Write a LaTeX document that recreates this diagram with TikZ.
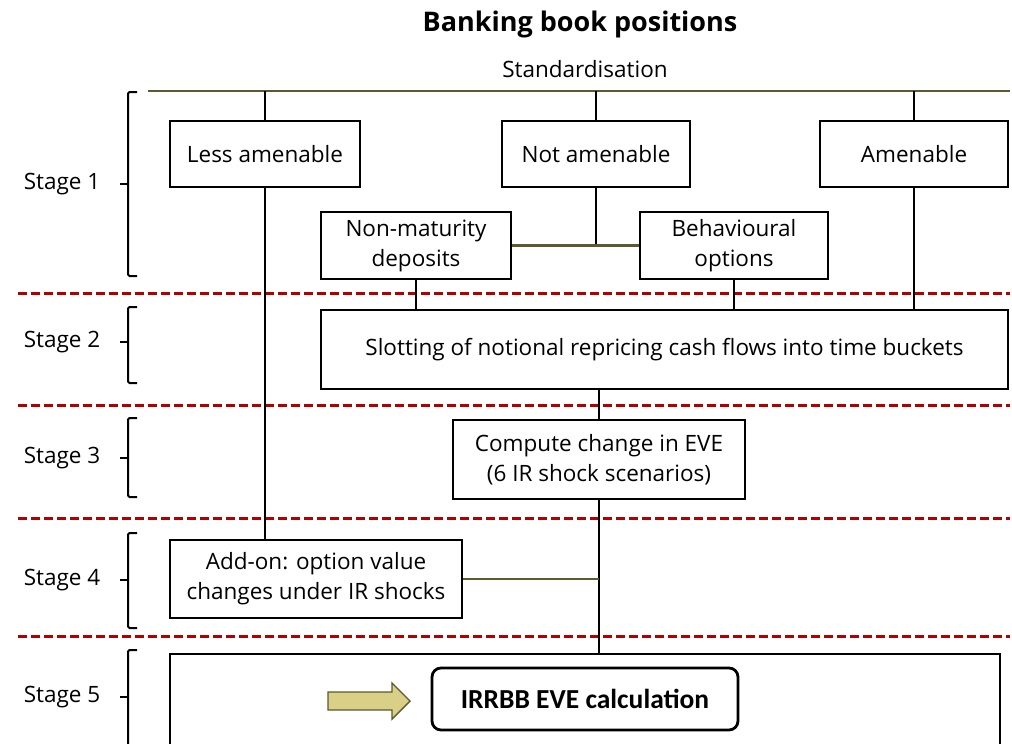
\documentclass[tikz,border=0pt]{standalone}
\usepackage{fontspec}
\setmainfont{Open Sans}
\newfontfamily\calfont{Carlito}
\definecolor{olivec}{HTML}{5C5A2E}
\definecolor{sepred}{HTML}{B00000}
\definecolor{khaki}{HTML}{D9CF86}
\begin{document}
\begin{tikzpicture}[x=1pt,y=-1pt,
    box/.style={draw, line width=2pt, fill=white, align=center, inner sep=0pt,
      font=\fontsize{22.5}{30}\selectfont},
    stagetxt/.style={font=\fontsize{22.5}{30}\selectfont},
    link/.style={line width=2pt},
    olivelink/.style={line width=2.2pt, draw=olivec},
    sepline/.style={draw=sepred, line width=3pt, dash pattern=on 9pt off 4pt},
    brk/.style={line width=2pt, rounded corners=1.5pt}]
    \useasboundingbox (0,0) rectangle (1012,744);

    \node[font=\bfseries\fontsize{27}{32}\selectfont] (title) at (580,24) {Banking book positions};
    \node[stagetxt] (std) at (585,69) {Standardisation};

    % stages and brackets
    \foreach \n/\top/\mid/\bot in {1/92/184/276, 2/307/342/383, 3/418/458/497, 4/533/580/628, 5/650/697/760} {
        \node[stagetxt] (s\n) at (62,\mid) {Stage \n};
        \draw[brk] (137,\top) -- (128,\top) -- (128,\bot) -- (137,\bot);
        \draw[line width=2pt] (120,\mid) -- (128,\mid);
    }
    \foreach \y in {293,405,518,636}
        \draw[sepline] (18,\y) -- (1010,\y);

    % boxes
    \node[box, minimum width=190pt, minimum height=66pt] (lessam) at (265,154) {Less amenable};
    \node[box, minimum width=188pt, minimum height=66pt] (notam) at (596,154) {Not amenable};
    \node[box, minimum width=188pt, minimum height=66pt] (am) at (914,154) {Amenable};
    \node[box, minimum width=190pt, minimum height=67pt] (nmd) at (416,245.5) {Non-maturity\\deposits};
    \node[box, minimum width=188pt, minimum height=67pt] (beh) at (734,245.5) {Behavioural\\options};
    \node[box, minimum width=687pt, minimum height=79pt] (slot) at (664.5,349.5) {Slotting of notional repricing cash flows into time buckets};
    \node[box, minimum width=292pt, minimum height=79pt] (comp) at (599,459.5) {Compute change in EVE\\(6 IR shock scenarios)};
    \node[box, minimum width=292pt, minimum height=78pt] (addon) at (316,579) {Add-on: option value\\changes under IR shocks};
    \node[box, minimum width=830pt, minimum height=100pt, anchor=north] (res) at (585,653) {};
    \node[box, line width=2.8pt, rounded corners=9pt, minimum width=306pt, minimum height=62pt,
      font=\calfont\bfseries\fontsize{27.5}{30}\selectfont] (eve) at (585,699) {IRRBB EVE calculation};
    \fill[khaki, draw=olivec, line width=1.4pt] (328,692) -- (392,692) -- (392,683) -- (410,701)
      -- (392,719) -- (392,710) -- (328,710) -- cycle;

    % connectors
    \coordinate (tl) at (148,91);
    \coordinate (tr) at (1010,91);
    \draw[olivelink] (tl) -- (tr);
    \draw[link] (lessam.north) -- (lessam.north |- tl);
    \draw[link] (notam.north) -- (notam.north |- tl);
    \draw[link] (am.north) -- (am.north |- tl);
    \draw[link] (notam.south) -- (notam.south |- nmd.east);
    \draw[olivelink] (nmd.east) -- (beh.west);
    \draw[link] (lessam.south) -- (lessam.south |- addon.north);
    \draw[link] (am.south) -- (am.south |- slot.north);
    \draw[link] (nmd.south) -- (nmd.south |- slot.north);
    \draw[link] (beh.south) -- (beh.south |- slot.north);
    \draw[link] (comp.north |- slot.south) -- (comp.north);
    \draw[link] (comp.south) -- (comp.south |- res.north);
    \draw[olivelink] (addon.east) -- (addon.east -| comp.south);
\end{tikzpicture}
\end{document}
